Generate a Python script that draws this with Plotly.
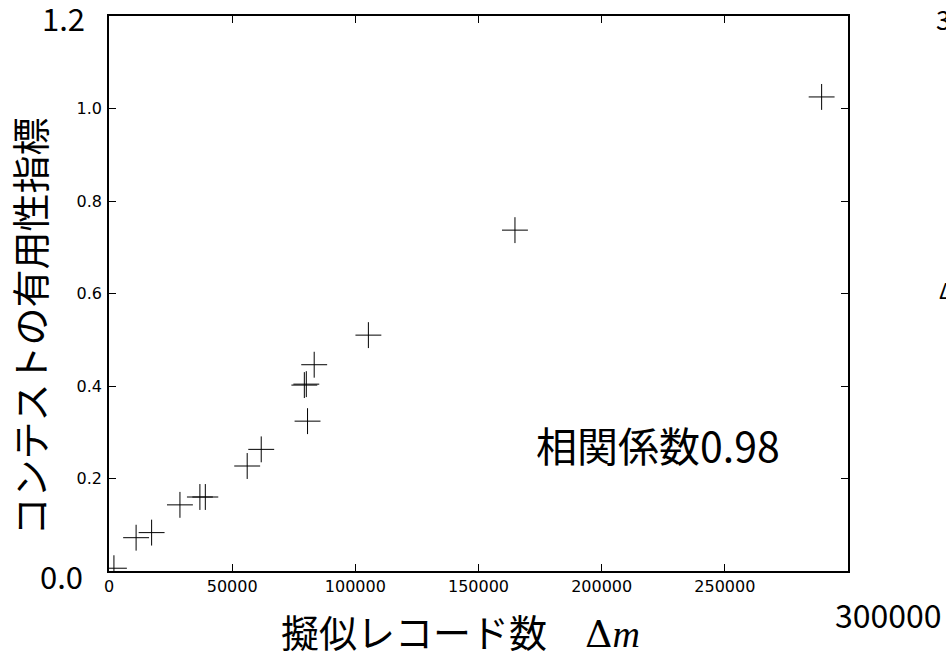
import plotly.graph_objects as go

# ---- data ----
pseudo_records = [2000, 11000, 17300, 28800, 36900, 39100, 56100, 61800,
                  79300, 80100, 80600, 83300, 105300, 164800, 289300]
usefulness = [0.006, 0.072, 0.083, 0.143, 0.160, 0.160, 0.227, 0.263,
              0.402, 0.404, 0.324, 0.446, 0.510, 0.737, 1.025]

x_tickvals = [0, 50000, 100000, 150000, 200000, 250000]
x_ticktext = ["0", "50000", "100000", "150000", "200000", "250000"]
y_tickvals = [0.2, 0.4, 0.6, 0.8, 1.0]
y_ticktext = ["0.2", "0.4", "0.6", "0.8", "1.0"]

x_title = ("擬似レコード数　<span style=\"font-family:'DejaVu Serif';font-style:normal\">Δ</span>"
           "<span style=\"font-family:'Liberation Serif'\"><i>m</i></span>")
y_title = "コンテストの有用性指標"
corr_text = "相関係数0.98"

W, H = 946, 651
L, R, T, B = 109, 98, 16, 80
PW, PH = W - L - R, H - T - B

def px(xp):
    return (xp - L) / PW

def py(yp):
    return (H - B - yp) / PH

fig = go.Figure()
fig.add_trace(go.Scatter(
    x=pseudo_records, y=usefulness, mode="markers",
    marker=dict(symbol="cross-thin", size=18.5,
                line=dict(color="black", width=1), color="black"),
    showlegend=False,
))

tick_font = dict(family="DejaVu Sans", size=16, color="black")
fig.update_xaxes(range=[0, 300000], tickvals=x_tickvals, ticktext=x_ticktext,
                 ticks="inside", ticklen=7, tickwidth=1, tickcolor="black",
                 showline=True, linecolor="black", linewidth=1.5, mirror="ticks",
                 showgrid=False, zeroline=False, tickfont=tick_font)
fig.update_yaxes(range=[0, 1.2], tickvals=y_tickvals, ticktext=y_ticktext,
                 ticks="inside", ticklen=7, tickwidth=1, tickcolor="black",
                 showline=True, linecolor="black", linewidth=1.5, mirror="ticks",
                 showgrid=False, zeroline=False, tickfont=tick_font,
                 ticklabelstandoff=2)

big = "Noto Sans CJK JP"
ann = [
    dict(text=corr_text, x=px(658), y=py(443.5), size=41),
    dict(text=x_title, x=px(460), y=py(630), size=38),
    dict(text=y_title, x=px(27.5), y=py(327), size=38, angle=-90),
    dict(text="1.2", x=px(63), y=py(18), size=31),
    dict(text="0.0", x=px(61), y=py(575.5), size=31),
    dict(text="300000", x=px(888), y=py(614), size=32),
]
annotations = []
for a in ann:
    annotations.append(dict(
        text=a["text"], x=a["x"], y=a["y"], xref="paper", yref="paper",
        xanchor="center", yanchor="middle", showarrow=False,
        textangle=a.get("angle", 0),
        font=dict(family=big, size=a["size"], color="black")))
annotations.append(dict(text="3", x=px(934), y=py(19), xref="paper", yref="paper",
                        xanchor="left", yanchor="middle", showarrow=False,
                        font=dict(family=big, size=26, color="black")))
annotations.append(dict(text="Δ", x=px(937), y=py(289), xref="paper", yref="paper",
                        xanchor="left", yanchor="middle", showarrow=False,
                        font=dict(family=big, size=22, color="black")))

fig.update_layout(
    width=W, height=H,
    margin=dict(l=L, r=R, t=T, b=B, pad=0),
    paper_bgcolor="white", plot_bgcolor="white",
    annotations=annotations,
)

fig.write_html("out.html", config={"displayModeBar": False},
               post_script="document.body.style.margin='0';document.body.style.overflow='hidden';")
